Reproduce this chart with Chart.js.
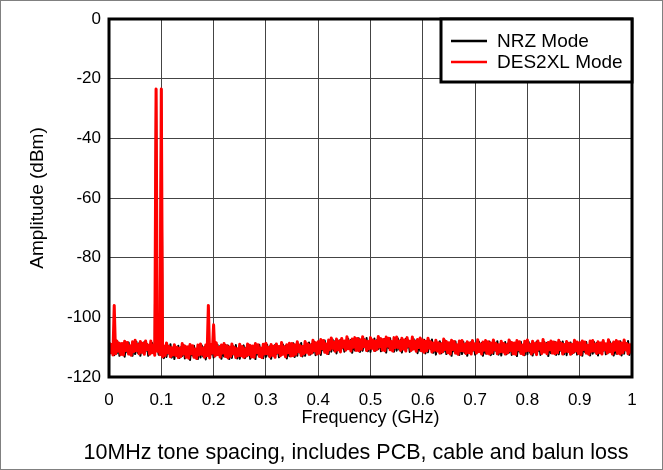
<!DOCTYPE html>
<html>
<head>
<meta charset="utf-8">
<script src="https://cdn.jsdelivr.net/npm/chart.js@4.4.0/dist/chart.umd.min.js"></script>
<style>
	html, body { margin: 0; padding: 0; background: #fff; }
	#wrap { width: 663px; height: 470px; }
</style>
</head>
<body>
<div id="wrap"><canvas id="chartcanvas" width="663" height="470"></canvas></div>
<script>
// spectrum sampled every 2.5 MHz from 0 to 1 GHz, one row = 25 MHz
var freqStep = 0.0025;

var nrzLevels = [
	-113.1,-109.6,-111.7,-108.6,-112.7,-109.1,-112.1,-108.4,-112.9,-110.0,
	-111.8,-108.7,-113.2,-109.2,-111.7,-108.4,-112.4,-109.7,-112.9,-108.6,
	-112.3,-108.2,-111.9,-108.7,-112.9,-109.6,-111.7,-108.3,-111.3,-108.9,
	-112.9,-109.3,-112.1,-108.6,-111.7,-109.0,-23.5,-109.8,-112.5,-108.7,
	-23.5,-109.1,-113.7,-110.6,-113.3,-109.4,-112.2,-109.0,-113.5,-110.2,
	-114.0,-110.5,-112.6,-109.5,-113.6,-110.0,-113.0,-109.3,-113.8,-110.9,
	-112.9,-109.8,-114.3,-110.3,-112.8,-109.5,-113.5,-110.8,-114.0,-109.7,
	-113.5,-109.4,-113.1,-109.9,-114.1,-110.8,-112.9,-109.5,-112.5,-110.1,
	-113.5,-109.9,-112.7,-109.2,-112.3,-109.6,-113.9,-110.4,-113.1,-109.3,
	-113.2,-109.4,-114.0,-110.9,-113.6,-109.7,-112.5,-109.3,-113.8,-110.5,
	-113.9,-110.6,-112.5,-109.4,-113.7,-110.1,-112.9,-109.2,-113.9,-110.8,
	-112.6,-109.5,-114.0,-110.0,-112.5,-109.2,-113.2,-110.5,-113.7,-109.4,
	-113.3,-109.2,-112.9,-109.7,-113.9,-110.6,-112.7,-109.3,-112.3,-109.9,
	-113.4,-109.8,-112.6,-109.1,-112.2,-109.5,-113.8,-110.3,-113.0,-109.2,
	-112.5,-108.7,-113.3,-110.2,-112.9,-109.0,-111.8,-108.6,-113.1,-109.8,
	-112.9,-109.4,-111.5,-108.4,-112.5,-108.9,-111.9,-108.2,-112.7,-109.8,
	-111.2,-108.1,-112.6,-108.6,-111.1,-107.8,-111.8,-109.1,-112.3,-108.0,
	-111.5,-107.4,-111.1,-107.9,-112.1,-108.8,-110.9,-107.5,-110.5,-108.1,
	-111.5,-107.9,-110.7,-107.2,-110.3,-107.6,-111.9,-108.4,-111.1,-107.3,
	-110.8,-107.0,-111.6,-108.5,-111.2,-107.3,-110.1,-106.9,-111.4,-108.1,
	-111.6,-108.1,-110.2,-107.1,-111.2,-107.6,-110.6,-106.9,-111.4,-108.5,
	-110.4,-107.3,-111.8,-107.8,-110.3,-107.0,-111.0,-108.3,-111.5,-107.2,
	-111.2,-107.1,-110.8,-107.6,-111.8,-108.5,-110.6,-107.2,-110.2,-107.8,
	-111.6,-108.0,-110.8,-107.3,-110.4,-107.7,-112.0,-108.5,-111.2,-107.4,
	-111.3,-107.5,-112.1,-109.0,-111.7,-107.8,-110.6,-107.4,-111.9,-108.6,
	-112.5,-109.0,-111.1,-108.0,-112.1,-108.5,-111.5,-107.8,-112.3,-109.4,
	-111.5,-108.4,-112.9,-108.9,-111.4,-108.1,-112.1,-109.4,-112.6,-108.3,
	-112.3,-108.2,-111.9,-108.7,-112.9,-109.6,-111.7,-108.3,-111.3,-108.9,
	-112.5,-108.9,-111.7,-108.2,-111.3,-108.6,-112.9,-109.4,-112.1,-108.3,
	-111.9,-108.1,-112.7,-109.6,-112.3,-108.4,-111.2,-108.0,-112.5,-109.2,
	-112.8,-109.3,-111.4,-108.3,-112.4,-108.8,-111.8,-108.1,-112.6,-109.7,
	-111.6,-108.5,-113.0,-109.0,-111.5,-108.2,-112.2,-109.5,-112.7,-108.4,
	-112.4,-108.3,-111.8,-108.8,-112.8,-109.5,-111.8,-108.2,-111.4,-108.8,
	-112.6,-108.8,-111.6,-108.3,-111.4,-108.5,-113.0,-109.3,-112.0,-108.4,
	-111.8,-108.2,-112.6,-109.5,-112.4,-108.3,-111.3,-108.1,-112.4,-109.1,
	-112.7,-109.2,-111.5,-108.4,-112.3,-108.9,-111.7,-108.2,-112.5,-109.6,
	-111.7,-108.4,-112.9,-109.1,-111.6,-108.3,-112.1,-109.4,-112.8,-108.5,
	-112.2,-108.3,-111.8,-108.6,-112.8,-109.7,-111.6,-108.4,-111.2,-109.0,
	-112.4,-108.8,-111.8,-108.1,-111.2,-108.7,-112.8,-109.5,-112.2,-108.2,
	-111.9,-108.0,-112.8,-109.7,-112.2,-108.5,-111.1,-107.9,-112.6,-109.3,
	-111.8
];

var des2xlLevels = [
	-108.3,-111.9,-109.1,-112.6,-96.0,-112.2,-107.9,-111.4,-108.7,-112.5,
	-108.8,-112.6,-108.0,-111.1,-108.4,-112.3,-109.5,-112.7,-108.2,-111.5,
	-107.7,-111.2,-109.1,-112.2,-108.1,-111.7,-108.7,-112.4,-107.9,-110.8,
	-109.3,-112.4,-107.9,-111.9,-109.4,-112.7,-23.5,-111.4,-108.2,-112.5,
	-23.5,-113.3,-109.6,-112.8,-108.6,-111.9,-109.8,-113.2,-110.2,-112.6,
	-109.2,-112.8,-110.0,-113.5,-110.4,-113.1,-108.8,-112.3,-109.6,-113.4,
	-109.9,-113.7,-109.1,-112.2,-109.5,-113.4,-110.6,-113.8,-109.3,-112.6,
	-108.9,-112.4,-110.3,-113.4,-109.3,-112.9,-96.0,-113.6,-109.1,-112.0,
	-102.5,-113.0,-108.5,-112.5,-110.0,-113.3,-109.3,-112.0,-108.8,-113.1,
	-109.5,-113.6,-109.9,-113.1,-108.9,-112.2,-110.1,-113.5,-110.5,-112.9,
	-109.0,-112.9,-109.8,-113.4,-110.5,-113.0,-108.9,-112.5,-109.4,-113.3,
	-109.6,-113.4,-108.8,-111.9,-109.2,-113.1,-110.3,-113.5,-109.0,-112.3,
	-108.7,-112.2,-110.1,-113.2,-109.1,-112.7,-109.7,-113.4,-108.9,-111.8,
	-109.8,-112.9,-108.4,-112.4,-109.9,-113.2,-109.2,-111.9,-108.7,-113.0,
	-108.8,-112.9,-109.2,-112.4,-108.2,-111.5,-109.4,-112.8,-109.8,-112.2,
	-108.1,-111.7,-108.9,-112.4,-109.3,-112.0,-107.7,-111.2,-108.5,-112.3,
	-108.2,-112.0,-107.4,-110.5,-107.8,-111.7,-108.9,-112.1,-107.6,-110.9,
	-106.9,-110.4,-108.3,-111.4,-107.3,-110.9,-107.9,-111.6,-107.1,-110.0,
	-107.9,-111.0,-106.5,-110.5,-108.0,-111.3,-107.3,-110.0,-106.8,-111.1,
	-107.1,-111.2,-107.5,-110.7,-106.5,-109.8,-107.7,-111.1,-108.1,-110.5,
	-106.8,-110.4,-107.6,-111.1,-108.0,-110.7,-106.4,-109.9,-107.2,-111.0,
	-107.4,-111.2,-106.6,-109.7,-107.0,-110.9,-108.1,-111.3,-106.8,-110.1,
	-106.6,-110.1,-108.0,-111.1,-107.0,-110.6,-107.6,-111.3,-106.8,-109.7,
	-108.0,-111.1,-106.6,-110.6,-108.1,-111.4,-107.4,-110.1,-106.9,-111.2,
	-107.6,-111.7,-108.0,-111.2,-107.0,-110.3,-108.2,-111.6,-108.6,-111.0,
	-107.7,-111.3,-108.5,-112.0,-108.9,-111.6,-107.3,-110.8,-108.1,-111.9,
	-108.5,-112.3,-107.7,-110.8,-108.1,-112.0,-109.2,-112.4,-107.9,-111.2,
	-107.8,-111.3,-109.0,-112.1,-108.2,-111.8,-108.6,-112.3,-107.8,-110.9,
	-108.9,-112.0,-107.5,-111.5,-109.0,-112.3,-108.3,-111.0,-107.8,-112.1,
	-108.2,-112.3,-108.6,-111.8,-107.6,-110.9,-108.8,-112.2,-109.2,-111.6,
	-108.0,-111.6,-108.8,-112.3,-109.2,-111.9,-107.6,-111.1,-108.4,-112.2,
	-108.6,-112.4,-107.8,-110.9,-108.2,-112.1,-109.3,-112.5,-108.0,-111.3,
	-107.6,-111.1,-109.2,-112.3,-108.0,-111.6,-108.8,-112.5,-107.9,-110.7,
	-108.8,-112.1,-107.4,-111.6,-108.9,-112.2,-108.4,-110.9,-107.9,-112.0,
	-108.3,-112.2,-108.5,-111.9,-107.7,-110.8,-108.7,-112.3,-109.1,-111.5,
	-108.1,-111.5,-108.7,-112.4,-109.1,-111.8,-107.7,-111.2,-108.3,-112.1,
	-108.5,-112.5,-107.9,-110.8,-108.3,-112.0,-109.4,-112.4,-107.9,-111.4,
	-107.8,-111.3,-109.0,-112.1,-108.2,-111.8,-108.6,-112.3,-107.8,-110.9,
	-108.9,-112.0,-107.5,-111.5,-109.0,-112.3,-108.3,-111.0,-107.8,-112.1,
	-108.2,-112.3,-108.6,-111.8,-107.6,-110.9,-108.8,-112.2,-109.2,-111.6,
	-108.6
];

var xTicks = [0,0.1,0.2,0.3,0.4,0.5,0.6,0.7,0.8,0.9,1];
var yTicks = [-120,-100,-80,-60,-40,-20,0];
var caption = "10MHz tone spacing, includes PCB, cable and balun loss";

var fontFamily = "'Liberation Sans', Arial, sans-serif";

function toPoints(levels){
	var pts = [];
	for (var i=0;i<levels.length;i++)
	{
		pts.push({ x : Math.round(i*freqStep*10000)/10000, y : levels[i] });
	}
	return pts;
}

var data = {
	datasets : [
		{
			label : "NRZ Mode",
			data : toPoints(nrzLevels),
			borderColor : "#000000",
			borderWidth : 2,
			borderJoinStyle : "round",
			order : 1
		},
		{
			label : "DES2XL Mode",
			data : toPoints(des2xlLevels),
			borderColor : "#ff0000",
			borderWidth : 3,
			borderJoinStyle : "round",
			order : 0
		}
	]
}

// white page, thin grey frame, heavy box round the plot, legend and caption
var framePlugin = {
	id : "frame",
	beforeDraw : function(chart){
		var c = chart.ctx;
		c.save();
		c.fillStyle = "#fff";
		c.fillRect(0,0,chart.width,chart.height);
		c.strokeStyle = "#808080";
		c.lineWidth = 1;
		c.strokeRect(0.5,0.5,chart.width-1,chart.height-1);
		c.restore();
	},
	afterDatasetsDraw : function(chart){
		var a = chart.chartArea, c = chart.ctx;
		c.save();
		c.strokeStyle = "#000";
		c.lineWidth = 3;
		c.strokeRect(a.left,a.top,a.right-a.left,a.bottom-a.top);

		// legend box in the top right corner
		var bx = 441, by = a.top, bw = a.right-bx, bh = 82-a.top;
		c.fillStyle = "#fff";
		c.fillRect(bx,by,bw,bh);
		c.strokeRect(bx,by,bw,bh);
		c.font = "19px " + fontFamily;
		c.textBaseline = "middle";
		c.textAlign = "left";
		var rows = [41,62];
		chart.data.datasets.forEach(function(ds,i){
			c.strokeStyle = ds.borderColor;
			c.lineWidth = 2.5;
			c.beginPath();
			c.moveTo(451,rows[i]);
			c.lineTo(487,rows[i]);
			c.stroke();
			c.fillStyle = "#000";
			c.fillText(ds.label,497,rows[i]+1);
		});

		c.font = "21.5px " + fontFamily;
		c.textAlign = "center";
		c.fillText(caption,356,453);
		c.restore();
	}
};

var ctx = document.getElementById("chartcanvas").getContext("2d");
var myNewChartObj = new Chart(ctx, {
	type : "line",
	data : data,
	plugins : [framePlugin],
	options : {
		responsive : false,
		animation : false,
		layout : { padding : { left : 22, right : 31, top : 19, bottom : 34 } },
		elements : { point : { radius : 0 }, line : { tension : 0 } },
		plugins : {
			legend : { display : false },
			tooltip : { enabled : false }
		},
		scales : {
			x : {
				type : "linear",
				min : 0,
				max : 1,
				afterBuildTicks : function(s){ s.ticks = xTicks.map(function(v){ return {value:v}; }); },
				afterFit : function(s){ s.height = 470-377-34; },
				ticks : {
					color : "#000",
					padding : 13,
					maxRotation : 0,
					font : { family : fontFamily, size : 17 },
					callback : function(v){ return String(+v.toFixed(1)); }
				},
				grid : { color : "#444", lineWidth : 1, drawTicks : false },
				border : { display : false },
				title : {
					display : true,
					text : "Frequency (GHz)",
					color : "#000",
					font : { family : fontFamily, size : 18 },
					padding : { top : 0, bottom : 7 }
				}
			},
			y : {
				min : -120,
				max : 0,
				afterBuildTicks : function(s){ s.ticks = yTicks.map(function(v){ return {value:v}; }); },
				afterFit : function(s){ s.width = 109-22; },
				ticks : {
					color : "#000",
					padding : 8,
					font : { family : fontFamily, size : 17 }
				},
				grid : { color : "#444", lineWidth : 1, drawTicks : false },
				border : { display : false },
				title : {
					display : true,
					text : "Amplitude (dBm)",
					color : "#000",
					font : { family : fontFamily, size : 19 },
					padding : { top : 4, bottom : 0 }
				}
			}
		}
	}
});
</script>
</body>
</html>
